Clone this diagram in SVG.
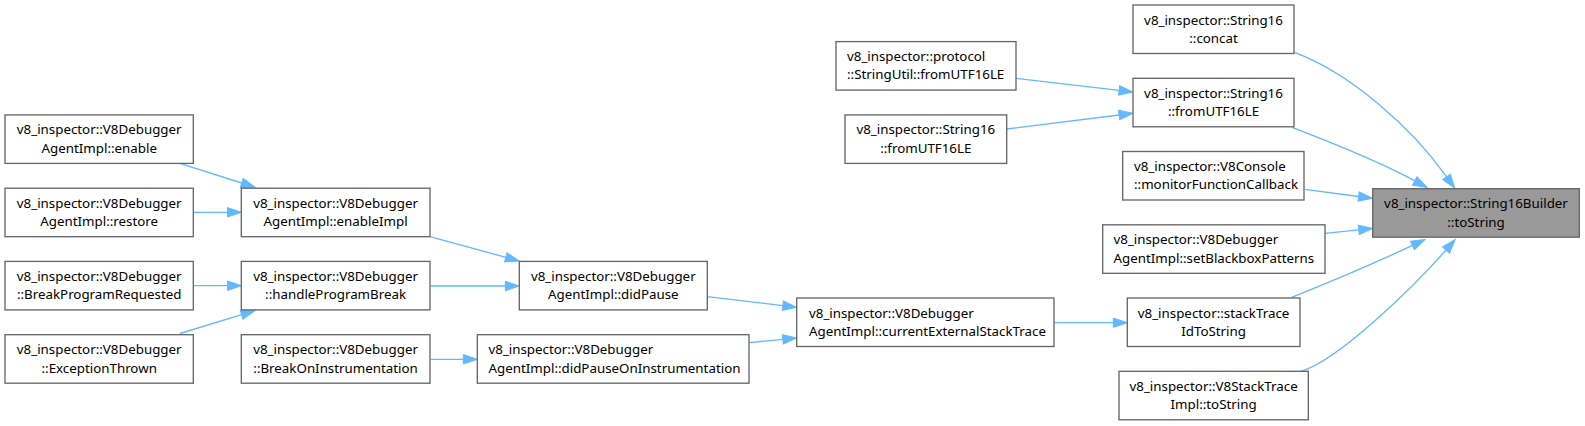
<svg xmlns="http://www.w3.org/2000/svg" width="1585" height="426" viewBox="0 0 1585 426">
<style>
.n rect{fill:#ffffff;stroke:#666666;stroke-width:1.33}
.n.h rect{fill:#999999}
.n text{font-family:"Noto Sans","Open Sans","DejaVu Sans",sans-serif;font-size:13.33px;fill:#000000;text-anchor:middle}
.n text.l{text-anchor:start}
.e path{fill:none;stroke:#63b8ff;stroke-width:1.33;marker-end:url(#ah)}
</style>
<defs>
<marker id="ah" markerUnits="userSpaceOnUse" viewBox="0 -5 14 10" refX="0" refY="0" markerWidth="14" markerHeight="10" orient="auto" overflow="visible">
<path d="M0,-4.7 L14,0 L0,4.7 Z" fill="#63b8ff" stroke="#63b8ff" stroke-width="1"/>
</marker>
</defs>
<rect width="1585" height="426" fill="#ffffff"/>
<g id="edges" class="e">
<path d="M1295,52.7 C1350,73 1412,128 1446.6,176.8"/>
<path d="M1292.7,127.7 C1330,142 1380,162 1414.8,180.9"/>
<path d="M1305,189.3 L1358.6,196.5"/>
<path d="M1325,233.3 L1358.8,229.8"/>
<path d="M1291.7,297.3 C1330,282 1375,263 1412.4,245.4"/>
<path d="M1300,371.7 C1340,360 1418,282 1446,250"/>
<path d="M1016,78.3 L1119.1,90.4"/>
<path d="M1006.7,129 L1119.1,115"/>
<path d="M1054,322.7 L1113.3,322.7"/>
<path d="M707.3,296.7 L782.8,305.6"/>
<path d="M749.3,342.7 L782.8,339.4"/>
<path d="M430,236.7 L505.8,257.3"/>
<path d="M430.5,286 L505.3,286"/>
<path d="M430.5,359.3 L463.3,359.3"/>
<path d="M180,163.3 L241.7,183"/>
<path d="M193.5,212.3 L227.5,212.3"/>
<path d="M193.5,285.7 L227.5,285.7"/>
<path d="M180,333.5 L241.6,314.7"/>
</g>
<g id="concat" class="n"><rect x="1133" y="5" width="161" height="48.5"/><text x="1213.5" y="24.5">v8_inspector::String16</text><text x="1213.5" y="42.8">::concat</text></g>
<g id="protocol_fromUTF16LE" class="n"><rect x="836" y="41.6" width="180" height="48.5"/><text class="l" x="847" y="61.1">v8_inspector::protocol</text><text class="l" x="847" y="79.4">::StringUtil::fromUTF16LE</text></g>
<g id="string16_fromUTF16LE_r" class="n"><rect x="1133" y="78.3" width="161" height="48.5"/><text x="1213.5" y="97.8">v8_inspector::String16</text><text x="1213.5" y="116.1">::fromUTF16LE</text></g>
<g id="string16_fromUTF16LE_l" class="n"><rect x="845" y="114.9" width="161.7" height="48.5"/><text x="925.8" y="134.4">v8_inspector::String16</text><text x="925.8" y="152.7">::fromUTF16LE</text></g>
<g id="enable" class="n"><rect x="5" y="114.9" width="188.3" height="48.5"/><text x="99.2" y="134.4">v8_inspector::V8Debugger</text><text x="99.2" y="152.7">AgentImpl::enable</text></g>
<g id="monitorFunctionCallback" class="n"><rect x="1122.7" y="151.5" width="181.3" height="48.5"/><text class="l" x="1134" y="171">v8_inspector::V8Console</text><text class="l" x="1134" y="189.3">::monitorFunctionCallback</text></g>
<g id="restore" class="n"><rect x="5" y="188.2" width="188.3" height="48.5"/><text x="99.2" y="207.7">v8_inspector::V8Debugger</text><text x="99.2" y="226">AgentImpl::restore</text></g>
<g id="enableImpl" class="n"><rect x="241.3" y="188.2" width="188.7" height="48.5"/><text x="335.6" y="207.7">v8_inspector::V8Debugger</text><text x="335.6" y="226">AgentImpl::enableImpl</text></g>
<g id="String16Builder_toString" class="n h"><rect x="1372.7" y="188.7" width="206.6" height="48.5"/><text x="1476" y="208.2">v8_inspector::String16Builder</text><text x="1476" y="226.5">::toString</text></g>
<g id="setBlackboxPatterns" class="n"><rect x="1102.7" y="224.8" width="222.3" height="48.5"/><text class="l" x="1113.5" y="244.3">v8_inspector::V8Debugger</text><text class="l" x="1113.5" y="262.6">AgentImpl::setBlackboxPatterns</text></g>
<g id="BreakProgramRequested" class="n"><rect x="5" y="261.4" width="188.3" height="48.5"/><text x="99.2" y="280.9">v8_inspector::V8Debugger</text><text x="99.2" y="299.2">::BreakProgramRequested</text></g>
<g id="handleProgramBreak" class="n"><rect x="241.3" y="261.4" width="188.7" height="48.5"/><text x="335.6" y="280.9">v8_inspector::V8Debugger</text><text x="335.6" y="299.2">::handleProgramBreak</text></g>
<g id="didPause" class="n"><rect x="519.3" y="261.4" width="188" height="48.5"/><text x="613.3" y="280.9">v8_inspector::V8Debugger</text><text x="613.3" y="299.2">AgentImpl::didPause</text></g>
<g id="currentExternalStackTrace" class="n"><rect x="796.7" y="298" width="257.3" height="48.5"/><text class="l" x="809" y="317.5">v8_inspector::V8Debugger</text><text class="l" x="809" y="335.8">AgentImpl::currentExternalStackTrace</text></g>
<g id="stackTraceIdToString" class="n"><rect x="1127.3" y="298" width="172.7" height="48.5"/><text x="1213.6" y="317.5">v8_inspector::stackTrace</text><text x="1213.6" y="335.8">IdToString</text></g>
<g id="ExceptionThrown" class="n"><rect x="5" y="334.7" width="188.3" height="48.5"/><text x="99.2" y="354.2">v8_inspector::V8Debugger</text><text x="99.2" y="372.5">::ExceptionThrown</text></g>
<g id="BreakOnInstrumentation" class="n"><rect x="241.3" y="334.7" width="188.7" height="48.5"/><text x="335.6" y="354.2">v8_inspector::V8Debugger</text><text x="335.6" y="372.5">::BreakOnInstrumentation</text></g>
<g id="didPauseOnInstrumentation" class="n"><rect x="477.3" y="334.7" width="271.7" height="48.5"/><text class="l" x="488.5" y="354.2">v8_inspector::V8Debugger</text><text class="l" x="488.5" y="372.5">AgentImpl::didPauseOnInstrumentation</text></g>
<g id="V8StackTraceImpl_toString" class="n"><rect x="1119" y="371.3" width="189.3" height="48.5"/><text x="1213.6" y="390.8">v8_inspector::V8StackTrace</text><text x="1213.6" y="409.1">Impl::toString</text></g>
</svg>
